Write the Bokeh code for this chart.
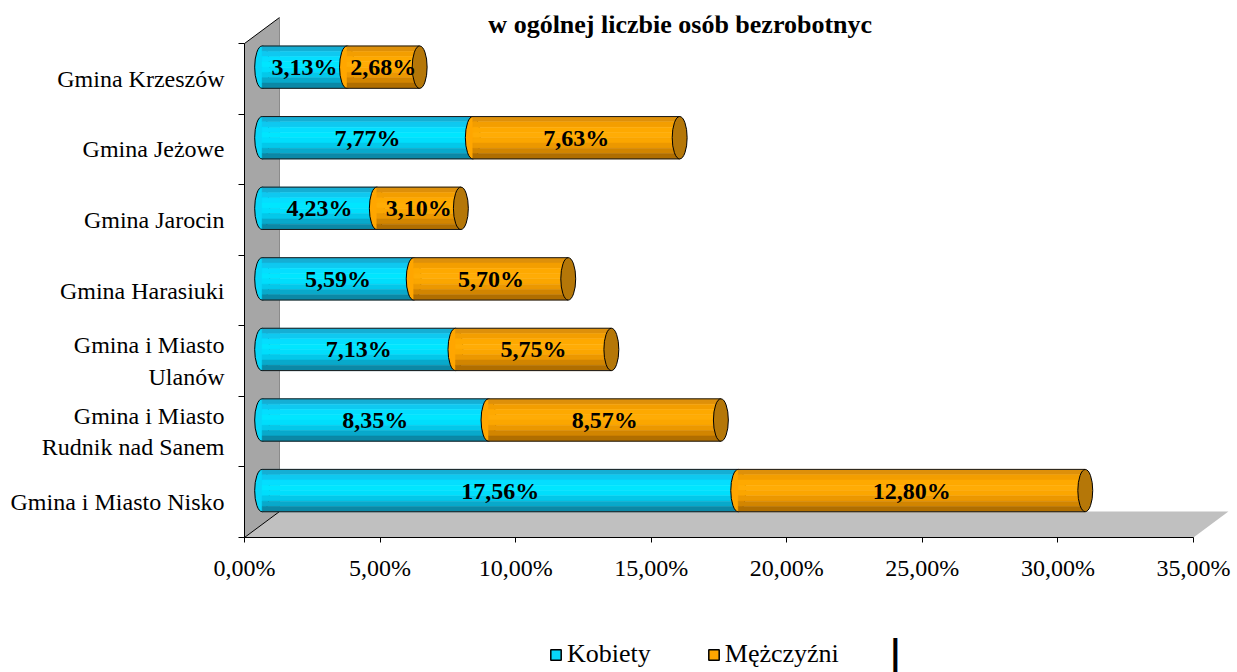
from bokeh.plotting import figure
from bokeh.models import ColumnDataSource, FixedTicker, Range1d, Legend, LegendItem, Label
from bokeh.embed import file_html
from bokeh.resources import INLINE
from bokeh.core.properties import value

# ---------------- data ----------------
gminy = ["Gmina i Miasto Nisko", "Gmina i Miasto\nRudnik nad Sanem", "Gmina i Miasto\nUlanów",
         "Gmina Harasiuki", "Gmina Jarocin", "Gmina Jeżowe", "Gmina Krzeszów"]
kobiety = [17.56, 8.35, 7.13, 5.59, 4.23, 7.77, 3.13]
mezczyzni = [12.80, 8.57, 5.75, 5.70, 3.10, 7.63, 2.68]
series_names = ["Kobiety", "Mężczyźni"]
x_ticks = [0, 5, 10, 15, 20, 25, 30, 35]
x_tick_labels = ["0,00%", "5,00%", "10,00%", "15,00%", "20,00%", "25,00%", "30,00%", "35,00%"]
title_text = "w ogólnej liczbie  osób bezrobotnyc"

# ---------------- style ----------------
FONT = "Liberation Serif"
X_SHIFT = 0.65      # 3D depth shift of bars (x, in % units)
Y_SHIFT = 0.165     # 3D depth shift of bars (y, in category units)
BAR_H = 0.6
CAP_W = 0.55
DEPTH_X = 1.29
DEPTH_Y = 0.368
cyan_stripes = ["#15AED4", "#0FC8F0", "#05DEFF", "#00E6FF", "#00DEFC", "#03C8EA", "#08A9CB", "#0B88A6"]
orange_stripes = ["#DE900A", "#F39E00", "#FEA900", "#FFAC05", "#FBA600", "#EC9800", "#D28500", "#B06E00"]
CYAN = "#08D6F8"
ORANGE = "#FFA600"
CAP = "#B57708"

n_cat = len(gminy)
X_START = -9.0
X_END = 36.44
Y_END = 7.397
Y_START = -1.913

p = figure(width=1237, height=672, output_backend="svg", toolbar_location=None,
           x_range=Range1d(X_START, X_END), y_range=Range1d(Y_START, Y_END),
           min_border_left=0, min_border_right=5, min_border_top=15, min_border_bottom=0)
p.outline_line_color = None
p.xgrid.visible = False
p.ygrid.visible = False
p.background_fill_color = "white"

# walls
p.patch([0, DEPTH_X, DEPTH_X + x_ticks[-1], x_ticks[-1]], [0, DEPTH_Y, DEPTH_Y, 0],
        fill_color="#C0C0C0", line_color=None)
p.patch([0, DEPTH_X, DEPTH_X, 0], [0, DEPTH_Y, n_cat + DEPTH_Y, n_cat],
        fill_color="#A6A6A6", line_color=None)
p.multi_line([[0, DEPTH_X], [0, DEPTH_X], [DEPTH_X, DEPTH_X]],
             [[0, DEPTH_Y], [n_cat, n_cat + DEPTH_Y], [DEPTH_Y, n_cat + DEPTH_Y]],
             line_color=["#000000", "#000000", "#8A8A8A"], line_width=1)

# bars
yc = [i + 0.5 + Y_SHIFT for i in range(n_cat)]
k_start = [X_SHIFT] * n_cat
k_end = [X_SHIFT + k for k in kobiety]
m_end = [X_SHIFT + k + m for k, m in zip(kobiety, mezczyzni)]

def stripes(left, right, colors):
    ys, ls, rs, cs = [], [], [], []
    n = len(colors)
    for i in range(n_cat):
        for j, c in enumerate(colors):
            ys.append(yc[i] + BAR_H / 2 - (j + 0.5) * BAR_H / n)
            ls.append(left[i]); rs.append(right[i]); cs.append(c)
    return ColumnDataSource(dict(y=ys, left=ls, right=rs, c=cs)), BAR_H / n

p.ellipse(x=k_start, y=yc, width=CAP_W, height=BAR_H, fill_color=CYAN, line_color="black", line_width=1)
src_k, sh = stripes(k_start, k_end, cyan_stripes)
p.hbar(y="y", left="left", right="right", height=sh, fill_color="c", line_color="c", line_width=0.5, source=src_k)
p.ellipse(x=k_end, y=yc, width=CAP_W, height=BAR_H, fill_color=ORANGE, line_color="black", line_width=1)
src_m, sh = stripes(k_end, m_end, orange_stripes)
p.hbar(y="y", left="left", right="right", height=sh, fill_color="c", line_color="c", line_width=0.5, source=src_m)
p.segment(x0=k_start + k_start, y0=[y + BAR_H / 2 for y in yc] + [y - BAR_H / 2 for y in yc],
          x1=m_end + m_end, y1=[y + BAR_H / 2 for y in yc] + [y - BAR_H / 2 for y in yc],
          line_color="#1A1A1A", line_width=1)
p.ellipse(x=m_end, y=yc, width=CAP_W, height=BAR_H, fill_color=CAP, line_color="black", line_width=1)

def fmt(v):
    return f"{v:.2f}".replace(".", ",") + "%"

lab_x = [(a + b) / 2 for a, b in zip(k_start, k_end)] + [(a + b) / 2 for a, b in zip(k_end, m_end)]
lab_y = yc + yc
lab_t = [fmt(v) for v in kobiety] + [fmt(v) for v in mezczyzni]
p.text(x=lab_x, y=lab_y, text=lab_t, text_align="center", text_baseline="middle",
       text_font=value(FONT), text_font_style="bold", text_font_size="24px", text_color="black")

# axes
xa = p.xaxis[0]
xa.fixed_location = 0
xa.ticker = FixedTicker(ticks=x_ticks)
xa.bounds = (x_ticks[0], x_ticks[-1])
xa.major_label_overrides = {t: l for t, l in zip(x_ticks, x_tick_labels)}
xa.minor_tick_line_color = None
xa.major_tick_out = 5
xa.major_tick_in = 0
xa.axis_line_color = "black"
xa.major_tick_line_color = "black"
xa.major_label_text_font = FONT
xa.major_label_text_font_size = "24px"
xa.major_label_text_color = "black"
xa.major_label_standoff = 12

ya = p.yaxis[0]
ya.fixed_location = 0
centers = [i + 0.5 for i in range(n_cat)]
ya.ticker = FixedTicker(ticks=centers, minor_ticks=list(range(n_cat + 1)))
ya.bounds = (0, n_cat)
ya.major_label_overrides = {c: g for c, g in zip(centers, gminy)}
ya.major_tick_out = 0
ya.major_tick_in = 0
ya.minor_tick_out = 6
ya.minor_tick_in = 0
ya.minor_tick_line_color = "black"
ya.axis_line_color = "black"
ya.major_label_text_font = FONT
ya.major_label_text_font_size = "24px"
ya.major_label_text_color = "black"
ya.major_label_standoff = 14

# title
p.add_layout(Label(x=16.19, y=7.27, text=title_text, text_align="center", text_baseline="middle",
                   text_font=FONT, text_font_style="bold", text_font_size="26px", text_color="black"))

# legend
nan = float("nan")
r_k = p.quad(left=[nan], right=[nan], top=[nan], bottom=[nan], fill_color=CYAN, line_color="black", line_width=1.5)
r_m = p.quad(left=[nan], right=[nan], top=[nan], bottom=[nan], fill_color=ORANGE, line_color="black", line_width=1.5)
legend = Legend(items=[LegendItem(label=series_names[0], renderers=[r_k]),
                       LegendItem(label=series_names[1], renderers=[r_m])],
                location=(549, 3), orientation="horizontal")
legend.glyph_width = 13
legend.glyph_height = 13
legend.label_standoff = 5
legend.spacing = 56
legend.padding = 0
legend.margin = 0
legend.border_line_color = None
legend.background_fill_alpha = 0
legend.label_text_font = FONT
legend.label_text_font_size = "26px"
legend.label_text_color = "black"
p.add_layout(legend, "center")

p.add_layout(Label(x=24.0, y=Y_START, text="|", text_align="center", text_baseline="bottom",
                   text_font="DejaVu Sans", text_font_style="bold", text_font_size="36px", text_color="black"))

open("out.html", "w").write(file_html(p, INLINE))
